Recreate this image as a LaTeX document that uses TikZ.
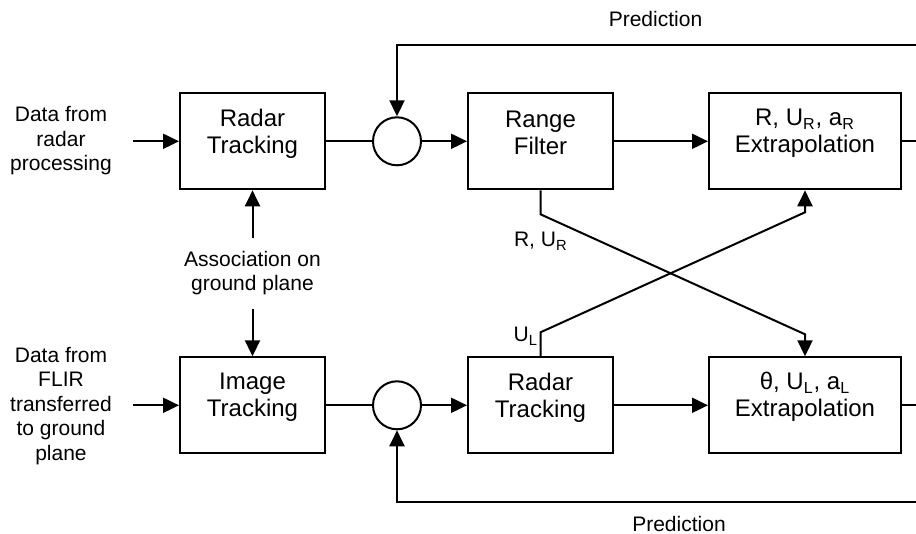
\documentclass[tikz,border=0pt]{standalone}
\usepackage{fontspec}
\setmainfont{Liberation Sans}
\usetikzlibrary{arrows.meta}
\begin{document}
\begin{tikzpicture}[x=0.5pt,y=-0.5pt,
 line width=1pt,
 blk/.style={draw, rectangle, minimum height=48pt, inner sep=0pt},
 btxt/.style={font=\fontsize{12}{13.5}\selectfont, align=center, inner sep=0pt},
 lbl/.style={font=\fontsize{10.5}{12.25}\selectfont, align=center, inner sep=0pt},
 sumc/.style={draw, circle, minimum size=24pt, inner sep=0pt},
 arr/.style={-{Triangle[length=8pt,width=7.5pt]}}
]
\useasboundingbox (0,0) rectangle (916,534);

% top row
\node[blk, minimum width=72.5pt] (rt) at (252.5,141.3) {};
\node[btxt] (rtt) at ([yshift=4pt]rt.center) {Radar\\Tracking};
\node[sumc] (c1) at (397,141.3) {};
\node[blk, minimum width=72.5pt] (rf) at (540.5,141.3) {};
\node[btxt] (rft) at ([yshift=4pt]rf.center) {Range\\Filter};
\node[blk, minimum width=96pt] (ex1) at (805,141.3) {};
\node[btxt] (ex1t) at ([yshift=4pt]ex1.center) {R, U\textsubscript{R}, a\textsubscript{R}\\Extrapolation};

% bottom row
\node[blk, minimum width=72.5pt] (it) at (252.5,405.3) {};
\node[btxt] (itt) at ([yshift=4pt]it.center) {Image\\Tracking};
\node[sumc] (c2) at (397,405.3) {};
\node[blk, minimum width=72.5pt] (rt2) at (540.5,405.3) {};
\node[btxt] (rt2t) at ([yshift=4pt]rt2.center) {Radar\\Tracking};
\node[blk, minimum width=96pt] (ex2) at (805,405.3) {};
\node[btxt] (ex2t) at ([yshift=4pt]ex2.center) {θ, U\textsubscript{L}, a\textsubscript{L}\\Extrapolation};

% labels
\node[lbl] (in1) at (61,141) {Data from\\radar\\processing};
\node[lbl] (in2) at (61,406) {Data from\\FLIR\\transferred\\to ground\\plane};
\node[lbl] (assoc) at (252.5,273) {Association on\\ground plane};
\node[lbl, anchor=base] (pt) at (655.5,27) {Prediction};
\node[lbl, anchor=base] (pb) at (679,531) {Prediction};
\node[lbl, anchor=base west] (lr) at (513,247) {R, U\textsubscript{R}};
\node[lbl, anchor=base east] (ll) at (539,342) {U\textsubscript{L}};

% coordinates
\coordinate (i1) at (133,141.3);
\coordinate (i2) at (133,405.3);
\coordinate (o1) at (916,141.3);
\coordinate (o2) at (916,405.3);
\coordinate (ft) at (916,45);
\coordinate (fb) at (916,502);
\coordinate (a1) at (252.5,238);
\coordinate (a2) at (252.5,309);

% connectors
\draw[arr] (i1) -- (rt.west);
\draw[arr] (i2) -- (it.west);
\draw (rt.east) -- (c1.west);
\draw (it.east) -- (c2.west);
\draw[arr] (c1.east) -- (rf.west);
\draw[arr] (c2.east) -- (rt2.west);
\draw[arr] (rf.east) -- (ex1.west);
\draw[arr] (rt2.east) -- (ex2.west);
\draw (ex1.east) -- (o1);
\draw (ex2.east) -- (o2);
\draw[arr] (ft) -- (c1.north |- ft) -- (c1.north);
\draw[arr] (fb) -- (c2.south |- fb) -- (c2.south);
\draw[arr] (a1) -- (rt.south);
\draw[arr] (a2) -- (it.north);
\draw[arr] (rf.south) -- ++(0,24) -- ++(264.5,120) -- (ex2.north);
\draw[arr] (rt2.north) -- ++(0,-24) -- ++(264.5,-120) -- (ex1.south);
\end{tikzpicture}
\end{document}
